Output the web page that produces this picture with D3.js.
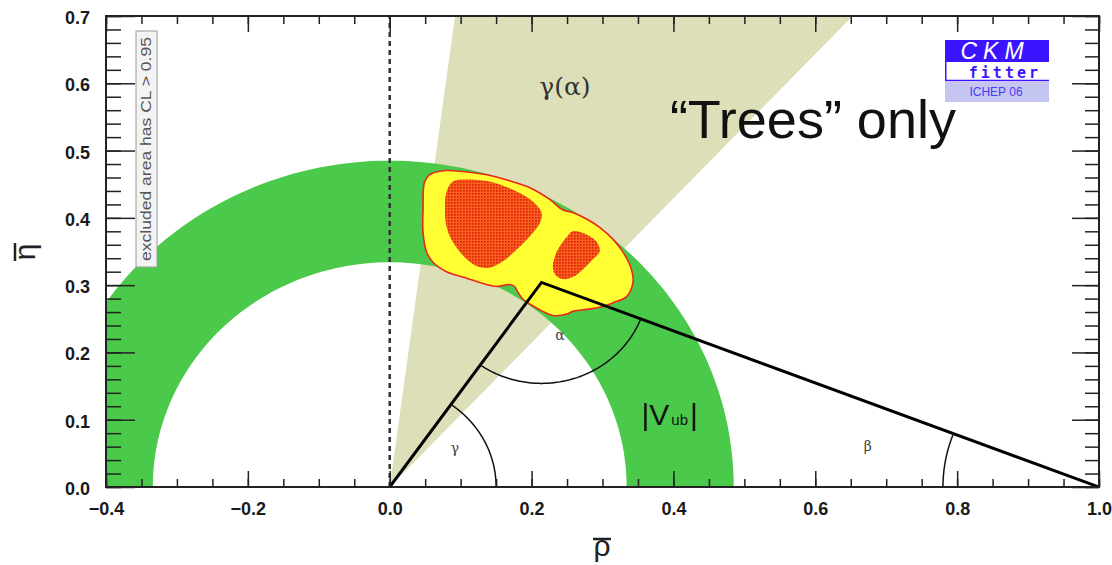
<!DOCTYPE html>
<html>
<head>
<meta charset="utf-8">
<script src="https://cdn.jsdelivr.net/npm/d3@7"></script>
<style>
    body { margin: 0; background: #fff; }
    svg { display: block; }
    text { font-family: "Liberation Sans", Arial, sans-serif; }
</style>
</head>
<body>
<div id="grafico"></div>
<script>
// Valores (rho, eta)
let dominioX = [-0.4, 1.0];
let dominioY = [0.0, 0.7];
let ticksX = [-0.4, -0.2, 0.0, 0.2, 0.4, 0.6, 0.8, 1.0];
let ticksY = [0.0, 0.1, 0.2, 0.3, 0.4, 0.5, 0.6, 0.7];

// banda |Vub| (radios interior y exterior)
let radiosVub = [0.334, 0.485];
// cuna gamma(alpha), angulos en grados
let angulosGamma = [47.0, 82.5];
// triangulo de unitariedad
let vertices = [[0.0, 0.0], [0.214, 0.304], [1.0, 0.0]];
// radios de los arcos gamma, alpha, beta
let radiosArcos = [0.15, 0.15, 0.22];

// contorno exterior (CL 95%)
let contorno95 = [
    [0.056, 0.464], [0.075, 0.470], [0.103, 0.469], [0.137, 0.464], [0.169, 0.455],
    [0.197, 0.445], [0.226, 0.427], [0.244, 0.412], [0.258, 0.408], [0.278, 0.398],
    [0.296, 0.386], [0.315, 0.368], [0.329, 0.349], [0.341, 0.323], [0.343, 0.304],
    [0.334, 0.283], [0.315, 0.274], [0.296, 0.267], [0.278, 0.264], [0.258, 0.261],
    [0.250, 0.257], [0.230, 0.255], [0.216, 0.261], [0.202, 0.269], [0.188, 0.279],
    [0.181, 0.289], [0.176, 0.298], [0.169, 0.301], [0.151, 0.298], [0.127, 0.304],
    [0.103, 0.312], [0.080, 0.320], [0.061, 0.334], [0.052, 0.349], [0.047, 0.378],
    [0.047, 0.412], [0.049, 0.453]
];

// contornos interiores (CL 68%)
let contorno68a = [
    [0.089, 0.454], [0.113, 0.457], [0.145, 0.453], [0.179, 0.439], [0.202, 0.424],
    [0.214, 0.408], [0.212, 0.393], [0.197, 0.372], [0.179, 0.353], [0.159, 0.335],
    [0.141, 0.326], [0.123, 0.328], [0.106, 0.341], [0.089, 0.364], [0.080, 0.387],
    [0.078, 0.412], [0.080, 0.438]
];
let contorno68b = [
    [0.258, 0.380], [0.278, 0.375], [0.292, 0.364], [0.296, 0.350], [0.286, 0.338],
    [0.272, 0.323], [0.258, 0.312], [0.244, 0.309], [0.233, 0.316], [0.230, 0.328],
    [0.233, 0.343], [0.240, 0.358], [0.250, 0.372]
];

let margin = {top: 16, right: 13, bottom: 78, left: 106},
    width = 1112 - margin.left - margin.right,
    height = 565 - margin.top - margin.bottom;

let svgraiz = d3.select("#grafico")
    .append("svg")
    .attr("width", 1112)
    .attr("height", 565);

let svg = svgraiz.append("g")
    .attr("transform", "translate(" + margin.left + "," + margin.top + ")");

let x = d3.scaleLinear().domain(dominioX).range([0, width]);
let y = d3.scaleLinear().domain(dominioY).range([height, 0]);

let linea = d3.line()
    .x(function (d) { return x(d[0]); })
    .y(function (d) { return y(d[1]); });

let contorno = d3.line()
    .x(function (d) { return x(d[0]); })
    .y(function (d) { return y(d[1]); })
    .curve(d3.curveCatmullRomClosed.alpha(0.5));

let defs = svgraiz.append("defs");
defs.append("clipPath")
    .attr("id", "recorte")
    .append("rect")
    .attr("width", width)
    .attr("height", height);

// patron punteado de la region roja
let patron = defs.append("pattern")
    .attr("id", "punteado")
    .attr("width", 3)
    .attr("height", 3)
    .attr("patternUnits", "userSpaceOnUse");
patron.append("rect").attr("width", 3).attr("height", 3).attr("fill", "#f4621c");
patron.append("rect").attr("width", 1.7).attr("height", 1.7).attr("fill", "#e81e10");

function puntosarco(cx, cy, r, a0, a1) {
    let pts = [];
    let n = 120;
    for (let i = 0; i <= n; i++) {
        let a = a0 + (a1 - a0) * i / n;
        pts.push([cx + r * Math.cos(a), cy + r * Math.sin(a)]);
    }
    return pts;
}

let zona = svg.append("g").attr("clip-path", "url(#recorte)");

// Cuna gamma(alpha)
let largo = 3;
let rad = angulosGamma.map(function (a) { return a * Math.PI / 180; });
zona.append("path")
    .attr("d", linea([[0, 0],
        [largo * Math.cos(rad[0]), largo * Math.sin(rad[0])],
        [largo * Math.cos(rad[1]), largo * Math.sin(rad[1])]]) + "Z")
    .attr("fill", "#dddfb9");

// Banda |Vub|
let anillo = puntosarco(0, 0, radiosVub[1], 0, Math.PI)
    .concat(puntosarco(0, 0, radiosVub[0], Math.PI, 0));
zona.append("path")
    .attr("d", linea(anillo) + "Z")
    .attr("fill", "#4bc94b");

// Region permitida
zona.append("path")
    .attr("d", contorno(contorno95))
    .attr("fill", "#ffff33")
    .attr("stroke", "#e8281c")
    .attr("stroke-width", 1.6);

[contorno68a, contorno68b].forEach(function (c) {
    zona.append("path")
        .attr("d", contorno(c))
        .attr("fill", "url(#punteado)");
});

// Linea discontinua en rho = 0
zona.append("line")
    .attr("x1", x(0)).attr("x2", x(0))
    .attr("y1", y(dominioY[0])).attr("y2", y(dominioY[1]))
    .attr("stroke", "#333")
    .attr("stroke-width", 2.5)
    .attr("stroke-dasharray", "5,4");

// Triangulo
zona.append("path")
    .attr("d", linea(vertices))
    .attr("fill", "none")
    .attr("stroke", "#000")
    .attr("stroke-width", 3)
    .attr("stroke-linejoin", "miter");

// Arcos de los angulos
let A = vertices[0], B = vertices[1], C = vertices[2];
let angBA = Math.atan2(A[1] - B[1], A[0] - B[0]);
let angBC = Math.atan2(C[1] - B[1], C[0] - B[0]);
let arcos = [
    puntosarco(A[0], A[1], radiosArcos[0], 0, Math.atan2(B[1] - A[1], B[0] - A[0])),
    puntosarco(B[0], B[1], radiosArcos[1], angBA + 2 * Math.PI, angBC + 2 * Math.PI),
    puntosarco(C[0], C[1], radiosArcos[2], Math.PI, Math.atan2(B[1] - C[1], B[0] - C[0]))
];
arcos.forEach(function (pts) {
    zona.append("path")
        .attr("d", linea(pts))
        .attr("fill", "none")
        .attr("stroke", "#111")
        .attr("stroke-width", 1.5);
});

// Etiquetas de los angulos
let griego = [["\u03b3", 0.092, 0.050], ["\u03b1", 0.240, 0.218], ["\u03b2", 0.674, 0.053]];
zona.selectAll("text.griego")
    .data(griego)
    .enter()
    .append("text")
    .attr("class", "griego")
    .attr("x", function (d) { return x(d[1]); })
    .attr("y", function (d) { return y(d[2]); })
    .attr("text-anchor", "middle")
    .style("font-family", "'DejaVu Serif', serif")
    .style("font-size", "14px")
    .style("fill", "#444")
    .text(function (d) { return d[0]; });

// |Vub|
let vub = zona.append("text")
    .attr("x", x(0.355))
    .attr("y", y(0.092))
    .style("font-size", "30px")
    .style("fill", "#111");
vub.append("tspan").text("|V");
vub.append("tspan").style("font-size", "15px").attr("dx", 2).text("ub");
vub.append("tspan").attr("dx", 2).text("|");

// gamma(alpha)
zona.append("text")
    .attr("x", x(0.247))
    .attr("y", y(0.582))
    .attr("text-anchor", "middle")
    .style("font-family", "'DejaVu Serif', serif")
    .style("font-size", "25px")
    .style("fill", "#333")
    .text("\u03b3(\u03b1)");

// "Trees" only
zona.append("text")
    .attr("x", x(0.395))
    .attr("y", y(0.519))
    .style("font-size", "54px")
    .style("fill", "#111")
    .text("\u201cTrees\u201d only");

// Ejes: ticks menores y mayores en los cuatro lados
function dibujareje(eje, trans) {
    let g = svg.append("g").attr("transform", trans).call(eje);
    g.select(".domain").remove();
    g.selectAll(".tick line").attr("stroke", "#222").attr("stroke-width", 1.5);
    return g;
}

let menX = x.ticks(28), menY = y.ticks(35);
dibujareje(d3.axisBottom(x).tickValues(menX).tickSize(-8).tickFormat(""), "translate(0," + height + ")");
dibujareje(d3.axisTop(x).tickValues(menX).tickSize(-8).tickFormat(""), "translate(0,0)");
dibujareje(d3.axisLeft(y).tickValues(menY).tickSize(-15).tickFormat(""), "translate(0,0)");
dibujareje(d3.axisRight(y).tickValues(menY).tickSize(-14).tickFormat(""), "translate(" + width + ",0)");

let ejeX = dibujareje(d3.axisBottom(x).tickValues(ticksX).tickSize(-16).tickPadding(15).tickFormat(d3.format(".1f")),
    "translate(0," + height + ")");
dibujareje(d3.axisTop(x).tickValues(ticksX).tickSize(-16).tickFormat(""), "translate(0,0)");
let ejeY = dibujareje(d3.axisLeft(y).tickValues(ticksY).tickSize(-29).tickPadding(16).tickFormat(d3.format(".1f")),
    "translate(0,0)");
dibujareje(d3.axisRight(y).tickValues(ticksY).tickSize(-27).tickFormat(""), "translate(" + width + ",0)");

[ejeX, ejeY].forEach(function (g) {
    g.selectAll(".tick text")
        .style("font-family", "'Liberation Sans', Arial, sans-serif")
        .style("font-size", "18px")
        .style("font-weight", "bold")
        .style("fill", "#1a1a1a");
});
ejeY.selectAll(".tick text").attr("dy", "0.42em");

// Marco
svg.append("rect")
    .attr("width", width)
    .attr("height", height)
    .attr("fill", "none")
    .attr("stroke", "#222")
    .attr("stroke-width", 2);

// Caja "excluded area"
let caja = svg.append("g").attr("transform", "translate(" + (136 - margin.left) + "," + (31 - margin.top) + ")");
caja.append("rect")
    .attr("width", 21)
    .attr("height", 236)
    .attr("fill", "#f3f3f3")
    .attr("stroke", "#9a9a9a")
    .attr("stroke-width", 1);
caja.append("text")
    .attr("transform", "translate(15,118) rotate(-90)")
    .attr("text-anchor", "middle")
    .attr("textLength", 224)
    .attr("lengthAdjust", "spacingAndGlyphs")
    .style("font-size", "14px")
    .style("fill", "#555")
    .text("excluded area has CL > 0.95");

// Logo CKMfitter
let logo = svgraiz.append("g").attr("transform", "translate(945,40)");
logo.append("rect").attr("width", 104).attr("height", 22).attr("fill", "#3c14ff");
logo.append("text")
    .attr("x", 50).attr("y", 19)
    .attr("text-anchor", "middle")
    .style("font-size", "23px")
    .style("font-style", "italic")
    .style("letter-spacing", "6px")
    .style("fill", "#fff")
    .text("CKM");
logo.append("line").attr("x1", 0.75).attr("x2", 0.75).attr("y1", 22).attr("y2", 41)
    .attr("stroke", "#3c14ff").attr("stroke-width", 1.5);
logo.append("line").attr("x1", 0).attr("x2", 104).attr("y1", 40.5).attr("y2", 40.5)
    .attr("stroke", "#3c14ff").attr("stroke-width", 1.5);
logo.append("text")
    .attr("x", 96).attr("y", 38)
    .attr("text-anchor", "end")
    .style("font-family", "'DejaVu Sans Mono', monospace")
    .style("font-size", "15px")
    .style("font-weight", "bold")
    .style("letter-spacing", "3px")
    .style("fill", "#3c14ff")
    .text("fitter");
logo.append("rect").attr("y", 42).attr("width", 104).attr("height", 20).attr("fill", "#c5c5f2");
logo.append("text")
    .attr("x", 51).attr("y", 56)
    .attr("text-anchor", "middle")
    .style("font-size", "12px")
    .style("fill", "#4a3cf0")
    .text("ICHEP 06");

// Titulos de los ejes (letras con barra)
let tituloX = svgraiz.append("g").attr("transform", "translate(602,562)");
tituloX.append("text")
    .attr("text-anchor", "middle")
    .attr("y", -6)
    .style("font-size", "30px")
    .style("fill", "#222")
    .text("\u03c1");
tituloX.append("line")
    .attr("x1", -9).attr("x2", 9).attr("y1", -23).attr("y2", -23)
    .attr("stroke", "#222").attr("stroke-width", 2.5);

let tituloY = svgraiz.append("g").attr("transform", "translate(35,252) rotate(-90)");
tituloY.append("text")
    .attr("text-anchor", "middle")
    .attr("y", 0)
    .style("font-size", "30px")
    .style("fill", "#222")
    .text("\u03b7");
tituloY.append("line")
    .attr("x1", -9).attr("x2", 9).attr("y1", -20).attr("y2", -20)
    .attr("stroke", "#222").attr("stroke-width", 2.5);
</script>
</body>
</html>
